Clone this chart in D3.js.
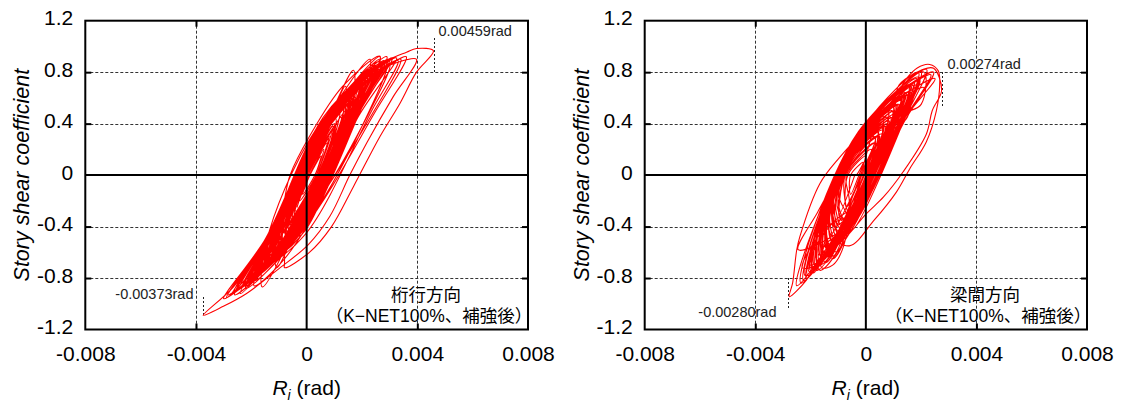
<!DOCTYPE html>
<html><head><meta charset="utf-8">
<script src="https://cdn.jsdelivr.net/npm/d3@7/dist/d3.min.js"></script>
<style>html,body{margin:0;padding:0;background:#fff;}svg{display:block;}</style>
</head><body>
<svg id="chart" width="1121" height="405"></svg>
<script>
// ---------- data ----------
const xTicks = [-0.008, -0.004, 0, 0.004, 0.008];
const xTickLabels = ["-0.008", "-0.004", "0", "0.004", "0.008"];
const yTicks = [-1.2, -0.8, -0.4, 0, 0.4, 0.8, 1.2];
const yTickLabels = ["-1.2", "-0.8", "-0.4", "0", "0.4", "0.8", "1.2"];
const gridX = [-0.004, 0.004];
const gridY = [-0.8, -0.4, 0.4, 0.8];
const yAxisTitle = "Story shear coefficient";
const ridgeTitle = "桁行方向";
const spanTitle = "梁間方向";
const caseNote = "（K−NET100%、補強後）";
const ridgePeaks = [0.00459, -0.00373];
const spanPeaks = [0.00274, -0.00280];

// hysteresis path, x in 1e-3 rad, y = story shear coefficient (桁行方向)
const ridgeLoops = [
 [[0,0]],
 [[-0.35,-0.25],[0.05,0],[0.73,0.25],[0.35,0]],
 [[-0.68,-0.4],[-0.05,0],[1.1,0.4],[0.45,0]],
 [[-1.15,-0.6],[-0.8,-0.3],[0.5,0.3],[1.75,0.6],[1.2,0.3],[-0.1,-0.3]],
 [[-0.88,-0.5],[-0.7,-0.25],[0.62,0.35],[2.0,0.7],[1.32,0.35],[0.0,-0.25]],
 [[-1.95,-0.8],[-1.13,-0.4],[0.65,0.4],[2.3,0.8],[1.55,0.4],[-0.23,-0.4]],
 [[-1.5,-0.7],[-1.07,-0.35],[0.75,0.45],[2.65,0.9],[1.75,0.45],[-0.07,-0.35]],
 [[-2.55,-0.9],[-1.28,-0.45],[0.67,0.425],[2.4,0.85],[1.67,0.425],[-0.28,-0.45]],
 [[-0.45,-0.3],[0.0,0],[1.4,0.5],[0.4,0]],
 [[-2.2,-0.87],[-1.3,-0.435],[0.73,0.46],[2.9,0.92],[1.83,0.46],[-0.2,-0.435]],
 [[-3.0,-0.96],[-1.44,-0.48],[0.62,0.44],[2.6,0.88],[1.82,0.44],[-0.24,-0.48]],
 [[-1.3,-0.65],[-0.9,-0.32],[0.9,0.45],[3.4,0.9],[2.3,0.45],[0.0,-0.32]],
 [[-1.2,-0.6],[-0.75,-0.3],[0.55,0.3],[1.75,0.6],[1.15,0.3],[-0.15,-0.3]],
 [[-1.7,-0.75],[-1.07,-0.375],[0.68,0.41],[2.4,0.82],[1.58,0.41],[-0.17,-0.375]],
 [[-0.9,-0.5],[-0.05,0],[1.1,0.4],[0.45,0]],
 [[-1.6,-0.87],[-1.35,-0.435],[0.67,0.455],[3.25,0.91],[1.87,0.455],[-0.15,-0.435]],
 [[-2.6,-0.9],[-1.33,-0.45],[0.7,0.45],[3.0,0.9],[1.8,0.45],[-0.23,-0.45]],
 [[-1.9,-0.82],[-1.15,-0.41],[0.85,0.44],[3.6,0.92],[2.5,0.5],[-0.1,-0.41]],
 [[-2.0,-0.8],[-1.03,-0.4],[0.66,0.345],[1.4,0.69],[1.26,0.345],[-0.33,-0.4]],
 [[-1.08,-0.72],[-0.97,-0.35],[0.73,0.41],[1.69,0.815],[1.53,0.41],[-0.17,-0.35]],
 [[-2.4,-0.92],[-1.3,-0.46],[0.75,0.45],[2.29,0.9],[1.75,0.45],[-0.3,-0.46]],
 [[-1.3,-0.62],[-0.77,-0.31],[0.62,0.33],[1.9,0.66],[1.22,0.33],[-0.17,-0.31]],
 [[-1.6,-0.7],[-0.92,-0.35],[0.7,0.38],[2.2,0.76],[1.4,0.38],[-0.22,-0.35]],
 [[-0.95,-0.55],[-0.65,-0.275],[0.6,0.3],[1.6,0.6],[1.1,0.3],[-0.15,-0.275]],
 [[-2.1,-0.82],[-1.1,-0.41],[0.76,0.42],[2.5,0.84],[1.56,0.42],[-0.3,-0.41]],
 [[-1.0,-0.6],[-0.7,-0.3],[0.8,0.4],[3.0,0.86],[2.1,0.42],[0.1,-0.3]],
 [[-1.4,-0.66],[-0.82,-0.33],[0.49,0.275],[1.45,0.55],[1.09,0.275],[-0.22,-0.33]],
 [[-1.75,-0.77],[-1.1,-0.385],[0.78,0.445],[2.8,0.89],[1.68,0.445],[-0.2,-0.385]],
 [[-0.7,-0.45],[-0.5,-0.225],[0.53,0.25],[1.2,0.5],[0.93,0.25],[-0.1,-0.225]],
 [[-2.7,-0.92],[-1.3,-0.46],[0.64,0.415],[2.35,0.83],[1.64,0.415],[-0.3,-0.46]],
 [[-2.2,-0.88],[-1.3,-0.44],[0.6,0.45],[2.0,0.75],[3.2,0.87],[3.97,0.9],[3.13,0.61],[2.17,0.25],[1.56,0],[0.84,-0.32],[0.06,-0.54],[-1.08,-0.74],[-2.17,-0.92],[-3.01,-1.02]],
 [[-3.74,-1.09],[-2.65,-0.87],[-1.69,-0.58],[-0.96,-0.32],[-0.6,0],[0.1,0.3],[1.3,0.69],[2.65,0.924],[1.9,0.5],[1.0,0.05],[0.0,-0.4],[-1.0,-0.7]],
 [[-1.9,-0.86],[-1.2,-0.45],[0.55,0.4],[2.0,0.75],[3.0,0.9],[3.61,0.955],[3.97,0.984],[4.58,0.966],[3.97,0.8],[3.37,0.557],[2.65,0.3],[1.69,-0.09],[0.9,-0.4],[0.1,-0.6],[-0.8,-0.72]],
 [[-0.8,-0.69],[-0.7,-0.35],[0.64,0.375],[2.1,0.75],[1.44,0.375],[-0.17,-0.35]],
 [[-1.1,-0.6],[-0.75,-0.3],[0.7,0.36],[2.05,0.72],[1.3,0.36],[-0.15,-0.3]],
 [[-1.85,-0.8],[-1.08,-0.4],[0.52,0.33],[1.8,0.66],[1.32,0.33],[-0.28,-0.4]],
 [[-0.6,-0.38],[-0.41,-0.19],[0.42,0.19],[0.95,0.38],[0.78,0.19],[-0.05,-0.19]],
 [[-2.35,-0.87],[-1.25,-0.435],[0.75,0.45],[2.95,0.9],[1.75,0.45],[-0.25,-0.435]],
 [[-2.6,-0.93],[-1.4,-0.46],[0.7,0.43],[3.3,0.89],[2.35,0.5],[-0.05,-0.46]],
 [[-1.5,-0.7],[-0.92,-0.35],[0.52,0.31],[1.55,0.62],[1.22,0.31],[-0.22,-0.35]],
 [[-0.8,-0.45],[-0.6,-0.225],[0.49,0.275],[1.55,0.55],[1.09,0.275],[0.0,-0.225]],
 [[-1.4,-0.65],[-1.01,-0.325],[0.67,0.425],[2.7,0.85],[1.67,0.425],[-0.01,-0.325]],
 [[-2.3,-0.85],[-1.18,-0.425],[0.59,0.375],[2.0,0.75],[1.49,0.375],[-0.28,-0.425]],
 [[-1.2,-0.58],[-0.78,-0.29],[0.75,0.4],[2.4,0.8],[1.45,0.4],[-0.08,-0.29]],
 [[-2.0,-0.84],[-1.17,-0.42],[0.62,0.39],[2.1,0.78],[1.52,0.39],[-0.27,-0.42]],
 [[-0.85,-0.5],[-0.6,-0.25],[0.54,0.275],[1.35,0.55],[1.04,0.275],[-0.1,-0.25]],
 [[-1.0,-0.55],[-0.75,-0.275],[0.56,0.325],[1.9,0.65],[1.26,0.325],[-0.05,-0.275]],
 [[-0.55,-0.35],[0.0,0],[0.97,0.35],[0.4,0]],
 [[-1.5,-0.73],[-1.0,-0.36],[0.95,0.47],[2.9,0.87],[2.0,0.38],[0.05,-0.36]],
 [[-1.65,-0.74],[-1.06,-0.37],[0.74,0.43],[2.6,0.86],[1.64,0.43],[-0.16,-0.37]],
 [[-2.5,-0.88],[-1.21,-0.44],[0.52,0.35],[1.95,0.7],[1.42,0.35],[-0.31,-0.44]],
 [[-1.85,-0.78],[-1.16,-0.39],[0.72,0.44],[2.75,0.88],[1.72,0.44],[-0.16,-0.39]],
 [[-1.0,-0.56],[-0.71,-0.28],[0.6,0.32],[1.7,0.64],[1.2,0.32],[-0.11,-0.28]],
 [[-1.35,-0.66],[-0.92,-0.33],[0.77,0.425],[2.45,0.85],[1.57,0.425],[-0.12,-0.33]],
 [[-0.5,-0.33],[0.05,0],[0.8,0.3],[0.35,0]],
 [[-1.25,-0.62],[-0.87,-0.31],[0.6,0.36],[2.2,0.72],[1.4,0.36],[-0.07,-0.31]],
 [[-2.45,-0.88],[-1.26,-0.44],[0.6,0.4],[2.55,0.8],[1.6,0.4],[-0.26,-0.44]],
 [[-1.8,-0.78],[-1.06,-0.39],[0.45,0.3],[1.5,0.6],[1.25,0.3],[-0.26,-0.39]],
 [[-2.9,-0.95],[-1.38,-0.475],[0.65,0.435],[2.7,0.87],[1.75,0.435],[-0.28,-0.475]],
 [[-0.7,-0.4],[-0.55,-0.2],[0.55,0.3],[1.75,0.6],[1.15,0.3],[0.05,-0.2]],
 [[-1.25,-0.64],[-0.8,-0.32],[0.65,0.34],[1.8,0.68],[1.25,0.34],[-0.2,-0.32]],
 [[-0.75,-0.46],[-0.56,-0.23],[0.58,0.29],[1.5,0.58],[1.08,0.29],[-0.06,-0.23]],
 [[-1.6,-0.72],[-1.09,-0.36],[0.78,0.46],[2.65,0.92],[1.78,0.46],[-0.09,-0.36]],
 [[-2.05,-0.83],[-1.21,-0.415],[0.77,0.455],[3.1,0.91],[1.77,0.455],[-0.21,-0.415]],
 [[-0.9,-0.5],[-0.05,0],[1.25,0.45],[0.45,0]],
 [[-1.45,-0.68],[-0.9,-0.34],[0.67,0.37],[2.0,0.74],[1.37,0.37],[-0.2,-0.34]],
 [[-0.9,-0.52],[-0.59,-0.26],[0.44,0.22],[1.05,0.44],[0.88,0.22],[-0.15,-0.26]],
 [[-1.9,-0.8],[-1.08,-0.4],[0.45,0.3],[1.7,0.6],[1.25,0.3],[-0.28,-0.4]],
 [[-2.2,-0.86],[-1.19,-0.43],[0.68,0.41],[2.25,0.82],[1.58,0.41],[-0.29,-0.43]],
 [[-2.85,-0.93],[-1.36,-0.465],[0.62,0.425],[2.5,0.85],[1.72,0.425],[-0.26,-0.465]],
 [[-1.55,-0.72],[-0.94,-0.36],[0.45,0.28],[1.3,0.56],[1.15,0.28],[-0.24,-0.36]],
 [[-0.45,-0.3],[0.05,0],[0.85,0.3],[0.35,0]],
 [[-1.05,-0.58],[-0.73,-0.29],[0.75,0.38],[2.15,0.76],[1.35,0.38],[-0.13,-0.29]],
 [[-1.7,-0.76],[-1.08,-0.38],[0.77,0.44],[2.9,0.88],[1.67,0.44],[-0.18,-0.38]],
 [[-1.15,-0.6],[-0.85,-0.3],[0.67,0.39],[2.3,0.78],[1.47,0.39],[-0.05,-0.3]],
 [[-2.3,-0.86],[-1.14,-0.43],[0.5,0.32],[1.6,0.64],[1.3,0.32],[-0.34,-0.43]],
 [[-0.8,-0.45],[0.0,0],[1.4,0.5],[0.4,0]],
 [[-0.65,-0.42],[-0.47,-0.21],[0.42,0.2],[1.0,0.4],[0.82,0.2],[-0.07,-0.21]],
 [[-0.4,-0.28],[0.05,0],[0.9,0.34],[0.35,0]],
 [[-0.25,-0.2],[0.1,0],[0.62,0.2],[0.3,0]],
 [[-0.14,-0.15],[0.12,0],[0.52,0.15],[0.28,0]],
 [[0.2,0]]
];

// hysteresis path, x in 1e-3 rad (梁間方向)
const spanLoops = [
 [[-0.4,0]],
 [[-0.95,-0.3],[-0.75,0],[0.35,0.3],[-0.15,0]],
 [[-1.4,-0.5],[-1.3,-0.25],[-0.32,0.225],[0.8,0.45],[0.58,0.225],[-0.4,-0.25]],
 [[-1.7,-0.62],[-1.47,-0.31],[-0.15,0.3],[1.25,0.6],[0.85,0.3],[-0.47,-0.31]],
 [[-2.05,-0.75],[-1.7,-0.375],[-0.1,0.35],[1.55,0.7],[1.1,0.35],[-0.5,-0.375]],
 [[-1.5,-0.55],[-1.4,-0.275],[-0.3,0.25],[0.95,0.5],[0.7,0.25],[-0.4,-0.275]],
 [[-2.25,-0.82],[-1.83,-0.41],[0.0,0.4],[1.9,0.8],[1.3,0.4],[-0.53,-0.41]],
 [[-1.6,-0.64],[-1.54,-0.32],[-0.02,0.36],[1.75,0.72],[1.08,0.36],[-0.44,-0.32]],
 [[-1.1,-0.5],[-1.3,-0.25],[-0.17,0.275],[1.2,0.55],[0.73,0.275],[-0.4,-0.25]],
 [[-2.2,-0.78],[-1.78,-0.39],[0.03,0.41],[2.2,0.82],[1.33,0.41],[-0.48,-0.39]],
 [[-1.2,-0.65],[-1.4,-0.325],[-0.35,0.2],[0.65,0.4],[0.45,0.2],[-0.6,-0.325]],
 [[0.6,0.3],[0.7,0.55],[1.6,0.7],[1.5,0.45],[0.7,0.3]],
 [[-1.35,-0.55],[-1.35,-0.275],[-0.32,0.225],[0.9,0.45],[0.58,0.225],[-0.45,-0.275]],
 [[-1.85,-0.7],[-1.65,-0.35],[-0.04,0.37],[1.95,0.74],[1.16,0.37],[-0.45,-0.35]],
 [[-1.78,-0.74],[-1.64,-0.37],[-0.17,0.31],[1.4,0.62],[0.93,0.31],[-0.54,-0.37],[-1.3,-0.6],[-1.78,-0.68],[-2.15,-0.816]],
 [[-2.77,-0.945],[-2.65,-0.84],[-2.5,-0.58],[-2.39,-0.48],[-1.66,-0.065],[-0.94,0.14],[0.0,0.36],[0.87,0.54],[1.47,0.75],[1.86,0.833],[2.31,0.86],[2.62,0.81],[2.67,0.7],[2.55,0.5],[2.19,0.26],[1.59,0.05],[1.11,-0.13],[0.3,-0.35],[-0.6,-0.55]],
 [[-1.3,-0.45],[-1.25,-0.225],[-0.17,0.275],[1.1,0.55],[0.73,0.275],[-0.35,-0.225]],
 [[0.4,0.25],[0.55,0.5],[1.25,0.65],[1.1,0.4],[0.3,0.2]],
 [[-0.85,-0.4],[-1.1,-0.2],[-0.4,0.16],[0.6,0.32],[0.3,0.16],[-0.4,-0.2]],
 [[-1.5,-0.6],[-1.45,-0.3],[-0.09,0.32],[1.45,0.64],[0.91,0.32],[-0.45,-0.3]],
 [[-1.06,-0.6],[-1.35,-0.3],[-0.2,0.25],[0.8,0.5],[0.6,0.25],[-0.55,-0.3]],
 [[-2.35,-0.84],[-1.9,-0.42],[-0.05,0.4],[2.45,0.8],[1.35,0.4],[-0.5,-0.42]],
 [[-1.66,-0.74],[-1.75,-0.4],[-0.9,0.05],[0.1,0.35],[0.95,0.58],[1.6,0.76],[2.05,0.82],[2.45,0.83],[2.74,0.66],[2.4,0.5],[2.19,0.32],[1.35,0.026],[0.64,-0.17],[0.02,-0.3],[-0.8,-0.5]],
 [[-2.0,-0.7],[-1.55,-0.35],[-0.37,0.225],[0.75,0.45],[0.63,0.225],[-0.55,-0.35]],
 [[1.0,0.45],[1.2,0.7],[2.1,0.8],[2.0,0.55],[1.2,0.45]],
 [[-1.2,-0.52],[-1.32,-0.26],[-0.25,0.25],[1.05,0.5],[0.65,0.25],[-0.42,-0.26]],
 [[-1.15,-0.4],[-1.1,-0.2],[-0.33,0.19],[0.75,0.38],[0.37,0.19],[-0.4,-0.2]],
 [[-1.7,-0.7],[-1.65,-0.35],[-0.13,0.34],[2.1,0.68],[1.07,0.34],[-0.45,-0.35]],
 [[-2.45,-0.58],[-1.75,-0.29],[-0.46,0.175],[0.4,0.35],[0.44,0.175],[-0.48,-0.29]],
 [[-1.45,-0.68],[-1.63,-0.34],[-0.02,0.375],[1.85,0.75],[1.18,0.375],[-0.43,-0.34]],
 [[-0.95,-0.45],[-1.2,-0.225],[-0.35,0.2],[0.8,0.4],[0.45,0.2],[-0.4,-0.225]],
 [[-0.9,-0.5],[-1.2,-0.25],[-0.43,0.15],[0.3,0.3],[0.27,0.15],[-0.5,-0.25]],
 [[-1.1,-0.35],[-1.8,-0.55],[-2.0,-0.72],[-1.5,-0.68],[-1.0,-0.5]],
 [[-2.0,-0.74],[-1.69,-0.37],[-0.1,0.35],[1.6,0.7],[1.1,0.35],[-0.49,-0.37]],
 [[-1.9,-0.72],[-1.62,-0.36],[-0.23,0.29],[1.3,0.58],[0.87,0.29],[-0.52,-0.36]],
 [[-1.4,-0.58],[-1.43,-0.29],[-0.15,0.3],[1.3,0.6],[0.85,0.3],[-0.43,-0.29]],
 [[-0.8,-0.35],[-1.06,-0.175],[-0.22,0.225],[1.0,0.45],[0.48,0.225],[-0.36,-0.175]],
 [[0.2,0.3],[0.4,0.45],[0.95,0.55],[0.9,0.35],[0.4,0.25]],
 [[-1.2,-0.63],[-1.48,-0.315],[-0.07,0.325],[1.6,0.65],[0.93,0.325],[-0.48,-0.315]],
 [[-0.75,-0.35],[-1.01,-0.175],[-0.38,0.15],[0.45,0.3],[0.22,0.15],[-0.41,-0.175]],
 [[-1.9,-0.76],[-1.76,-0.38],[-0.03,0.39],[2.35,0.78],[1.27,0.39],[-0.46,-0.38]],
 [[-1.75,-0.66],[-1.61,-0.33],[0.05,0.4],[2.0,0.8],[1.25,0.4],[-0.41,-0.33]],
 [[-1.25,-0.56],[-1.41,-0.28],[-0.12,0.31],[1.5,0.62],[0.88,0.31],[-0.41,-0.28]],
 [[-1.4,-0.4],[-2.1,-0.6],[-2.3,-0.72],[-1.8,-0.7],[-1.3,-0.55]],
 [[-1.6,-0.55],[-1.35,-0.275],[-0.4,0.2],[0.55,0.4],[0.5,0.2],[-0.45,-0.275]],
 [[-1.55,-0.66],[-1.51,-0.33],[-0.3,0.25],[0.95,0.5],[0.7,0.25],[-0.51,-0.33]],
 [[-1.0,-0.45],[-1.2,-0.225],[-0.2,0.25],[1.05,0.5],[0.6,0.25],[-0.4,-0.225]],
 [[-2.5,-0.86],[-1.93,-0.43],[-0.11,0.38],[1.9,0.76],[1.29,0.38],[-0.53,-0.43]],
 [[-0.7,-0.3],[-0.98,-0.15],[-0.38,0.15],[0.5,0.3],[0.22,0.15],[-0.38,-0.15]],
 [[-1.05,-0.48],[-1.23,-0.24],[-0.38,0.19],[0.7,0.38],[0.42,0.19],[-0.43,-0.24]],
 [[-1.35,-0.6],[-1.4,-0.3],[-0.17,0.275],[1.15,0.55],[0.73,0.275],[-0.5,-0.3]],
 [[-1.65,-0.68],[-1.58,-0.34],[-0.05,0.35],[1.8,0.7],[1.05,0.35],[-0.48,-0.34]],
 [[-2.1,-0.78],[-1.73,-0.39],[-0.1,0.35],[1.7,0.7],[1.1,0.35],[-0.53,-0.39]],
 [[-0.9,-0.45],[-1.5,-0.55],[-1.6,-0.72],[-1.2,-0.7],[-0.8,-0.55]],
 [[-0.6,-0.2],[-0.7,0],[0.2,0.2],[-0.2,0]],
 [[-1.3,-0.6],[-1.45,-0.3],[-0.24,0.27],[1.15,0.54],[0.76,0.27],[-0.45,-0.3]],
 [[-1.25,-0.5],[-1.25,-0.25],[-0.32,0.21],[0.85,0.42],[0.48,0.21],[-0.45,-0.25]],
 [[-2.15,-0.8],[-1.75,-0.4],[-0.16,0.33],[1.35,0.66],[1.04,0.33],[-0.55,-0.4]],
 [[-1.0,-0.4],[-1.1,-0.2],[-0.36,0.175],[0.6,0.35],[0.34,0.175],[-0.4,-0.2]],
 [[-0.9,-0.42],[-1.17,-0.21],[-0.23,0.24],[1.1,0.48],[0.57,0.24],[-0.37,-0.21]],
 [[-1.55,-0.65],[-1.5,-0.325],[-0.15,0.3],[1.35,0.6],[0.85,0.3],[-0.5,-0.325]],
 [[-1.45,-0.64],[-1.59,-0.32],[-0.02,0.375],[2.5,0.75],[1.18,0.375],[-0.39,-0.32]],
 [[-0.9,-0.35],[-0.75,0],[0.35,0.25],[-0.15,0]],
 [[-0.6,-0.3],[-0.75,0],[0.3,0.25],[-0.15,0]],
 [[-0.7,-0.25],[-0.65,0],[0.0,0.15],[-0.25,0]],
 [[-0.55,-0.15],[-0.55,0],[-0.1,0.1],[-0.35,0]],
 [[-0.4,0]]
];

// ---------- drawing ----------
const svg = d3.select("#chart");
const FONT = "'Liberation Sans', Arial, Helvetica, sans-serif";
const JFONT = "'Liberation Sans', 'Noto Sans CJK JP', 'Noto Sans CJK SC', sans-serif";
const yTop = 20.7, yBot = 329.5;

const panels = [
  { x0: 85.3, x1: 528, loops: ridgeLoops, peaks: ridgePeaks, title: ridgeTitle,
    ann: [{ y1: 38, y2: 72, dx: 4, ty: 36, anchor: "start" },
          { y1: 297, y2: 316, dx: -10, ty: 299, anchor: "end" }] },
  { x0: 644.7, x1: 1087, loops: spanLoops, peaks: spanPeaks, title: spanTitle,
    ann: [{ y1: 72, y2: 107, dx: 5, ty: 69, anchor: "start" },
          { y1: 278, y2: 310, dx: -12, ty: 317, anchor: "end" }] }
];

panels.forEach(p => {
  const x = d3.scaleLinear().domain([-0.008, 0.008]).range([p.x0, p.x1]);
  const y = d3.scaleLinear().domain([-1.2, 1.2]).range([yBot, yTop]);
  const g = svg.append("g");

  // dashed grid
  g.selectAll(".gx").data(gridX).join("line")
    .attr("x1", d => Math.round(x(d)) + 0.5).attr("x2", d => Math.round(x(d)) + 0.5)
    .attr("y1", yTop).attr("y2", yBot)
    .attr("stroke", "#333").attr("stroke-width", 1).attr("stroke-dasharray", "3,2");
  g.selectAll(".gy").data(gridY).join("line")
    .attr("y1", d => Math.round(y(d)) + 0.5).attr("y2", d => Math.round(y(d)) + 0.5)
    .attr("x1", p.x0).attr("x2", p.x1)
    .attr("stroke", "#333").attr("stroke-width", 1).attr("stroke-dasharray", "3,2");

  // peak annotation dotted lines + labels
  p.peaks.forEach((v, i) => {
    const a = p.ann[i];
    const xv = Math.round(x(v)) + 0.5;
    g.append("line").attr("x1", xv).attr("x2", xv).attr("y1", a.y1).attr("y2", a.y2)
      .attr("stroke", "#222").attr("stroke-width", 1).attr("stroke-dasharray", "2,2");
    g.append("text").attr("x", xv + a.dx).attr("y", a.ty)
      .attr("text-anchor", a.anchor).attr("font-family", FONT).attr("font-size", 14.5)
      .attr("fill", "#222").text(v.toFixed(5) + "rad");
  });

  // hysteresis curve
  const line = d3.line()
    .x(d => x(d[0] / 1000)).y(d => y(d[1]))
    .curve(d3.curveCatmullRom.alpha(0.5));
  g.append("path").datum(p.loops.flat())
    .attr("d", line).attr("fill", "none")
    .attr("stroke", "#ff0000").attr("stroke-width", 1.1).attr("stroke-linejoin", "round");

  // zero axes
  g.append("line").attr("x1", x(0)).attr("x2", x(0)).attr("y1", yTop).attr("y2", yBot)
    .attr("stroke", "#000").attr("stroke-width", 2);
  g.append("line").attr("x1", p.x0).attr("x2", p.x1).attr("y1", y(0)).attr("y2", y(0))
    .attr("stroke", "#000").attr("stroke-width", 2);

  // frame
  g.append("rect").attr("x", p.x0).attr("y", yTop)
    .attr("width", p.x1 - p.x0).attr("height", yBot - yTop)
    .attr("fill", "none").attr("stroke", "#000").attr("stroke-width", 2);

  // inward tick marks on all four edges
  const tickStyle = s => { s.select(".domain").remove(); s.selectAll("line").attr("stroke", "#000").attr("stroke-width", 2); };
  g.append("g").attr("transform", `translate(${p.x0},0)`)
    .call(d3.axisRight(y).tickValues(gridY).tickSize(6).tickFormat("")).call(tickStyle);
  g.append("g").attr("transform", `translate(${p.x1},0)`)
    .call(d3.axisLeft(y).tickValues(gridY).tickSize(6).tickFormat("")).call(tickStyle);
  g.append("g").attr("transform", `translate(0,${yTop})`)
    .call(d3.axisBottom(x).tickValues(gridX).tickSize(6).tickFormat("")).call(tickStyle);
  g.append("g").attr("transform", `translate(0,${yBot})`)
    .call(d3.axisTop(x).tickValues(gridX).tickSize(6).tickFormat("")).call(tickStyle);

  // tick labels
  const yl = g.append("g").attr("transform", `translate(${p.x0},0)`)
    .call(d3.axisLeft(y).tickValues(yTicks).tickSize(0).tickPadding(12)
      .tickFormat((d, i) => yTickLabels[i]));
  yl.select(".domain").remove();
  yl.selectAll("text").attr("font-family", FONT).attr("font-size", 21).attr("fill", "#000").attr("dy", "0.2em");

  const xl = g.append("g").attr("transform", `translate(0,${yBot})`)
    .call(d3.axisBottom(x).tickValues(xTicks).tickSize(0).tickPadding(16.5)
      .tickFormat((d, i) => xTickLabels[i]));
  xl.select(".domain").remove();
  xl.selectAll("text").attr("font-family", FONT).attr("font-size", 21).attr("fill", "#000");

  // axis titles
  g.append("text")
    .attr("transform", `translate(${p.x0 - 56},${(yTop + yBot) / 2}) rotate(-90)`)
    .attr("text-anchor", "middle").attr("font-family", FONT).attr("font-size", 21.5)
    .attr("font-style", "italic").text(yAxisTitle);

  const xt = g.append("text").attr("x", x(0)).attr("y", 395)
    .attr("text-anchor", "middle").attr("font-family", FONT).attr("font-size", 21);
  xt.append("tspan").attr("font-style", "italic").text("R");
  xt.append("tspan").attr("font-style", "italic").attr("font-size", 14).attr("dy", 5).text("i");
  xt.append("tspan").attr("dy", -5).text(" (rad)");

  // panel labels
  g.append("text").attr("x", p.x1 - 102).attr("y", 301)
    .attr("text-anchor", "middle").attr("font-family", JFONT).attr("font-size", 17.5)
    .attr("fill", "#000").text(p.title);
  g.append("text").attr("x", p.x1 - 99).attr("y", 321.5)
    .attr("text-anchor", "middle").attr("font-family", JFONT).attr("font-size", 17.5)
    .attr("fill", "#000").text(caseNote);
});
</script>
</body></html>
